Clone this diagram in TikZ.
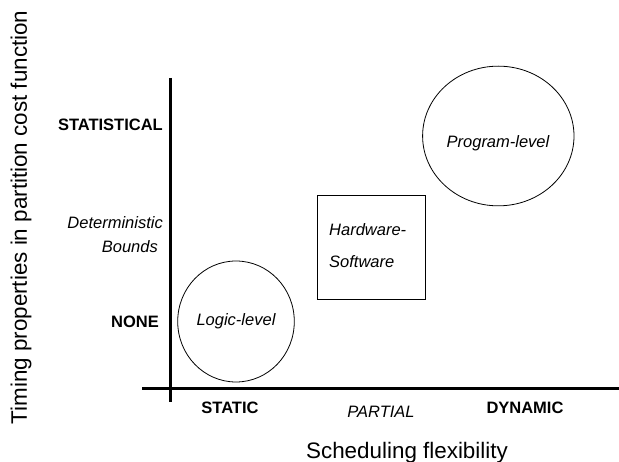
\documentclass[tikz,border=0pt]{standalone}
\usepackage{fontspec}
\setmainfont{Liberation Sans}
\usetikzlibrary{shapes.geometric}
\begin{document}
\begin{tikzpicture}[x=1pt,y=-1pt,
  axis/.style={line width=3pt},
  shapeline/.style={draw,line width=0.8pt},
  ticklabel/.style={font=\fontsize{16.5}{19}\selectfont\bfseries,inner sep=0pt},
  midlabel/.style={font=\fontsize{16.5}{19}\selectfont\itshape,inner sep=0pt},
  axistitle/.style={font=\fontsize{22.4}{26}\selectfont,inner sep=0pt}]
\useasboundingbox (0,0) rectangle (619,462);

% axes
\coordinate (ytop) at (170,78);
\coordinate (ybot) at (170,402);
\coordinate (xleft) at (142,389);
\coordinate (xright) at (619,389);
\draw[axis] (ytop) -- (ybot);
\draw[axis] (xleft) -- (xright);

% axis titles
\node[axistitle,anchor=base,rotate=90] (ytitle) at (27,217.5) {Timing properties in partition cost function};
\node[axistitle,anchor=base] (xtitle) at (407,458) {Scheduling flexibility};

% vertical scale
\node[ticklabel,anchor=base east] (stat) at (163,131) {STATISTICAL};
\node[midlabel,anchor=base east] (det) at (163,229) {Deterministic};
\node[midlabel,anchor=base east] (bounds) at (158,253) {Bounds};
\node[ticklabel,anchor=base east] (none) at (159,328) {NONE};

% horizontal scale
\node[ticklabel,anchor=base] (static) at (230,414) {STATIC};
\node[midlabel,anchor=base] (partial) at (381,417.5) {PARTIAL};
\node[ticklabel,anchor=base] (dynamic) at (525,414) {DYNAMIC};

% partitioning approaches
\node[shapeline,ellipse,minimum width=116.6pt,minimum height=121pt,inner sep=0pt] (logic) at (236,321.5) {};
\node[midlabel,anchor=base] (logiclbl) at (236,326) {Logic-level};

\draw[shapeline] (317.3,195.7) rectangle (425,299);
\node[midlabel,anchor=base west] (hw) at (329,236) {Hardware-};
\node[midlabel,anchor=base west] (sw) at (329,268) {Software};

\node[shapeline,ellipse,minimum width=151.4pt,minimum height=139.7pt,inner sep=0pt] (program) at (498.3,136) {};
\node[midlabel,anchor=base] (proglbl) at (498,148) {Program-level};
\end{tikzpicture}
\end{document}
